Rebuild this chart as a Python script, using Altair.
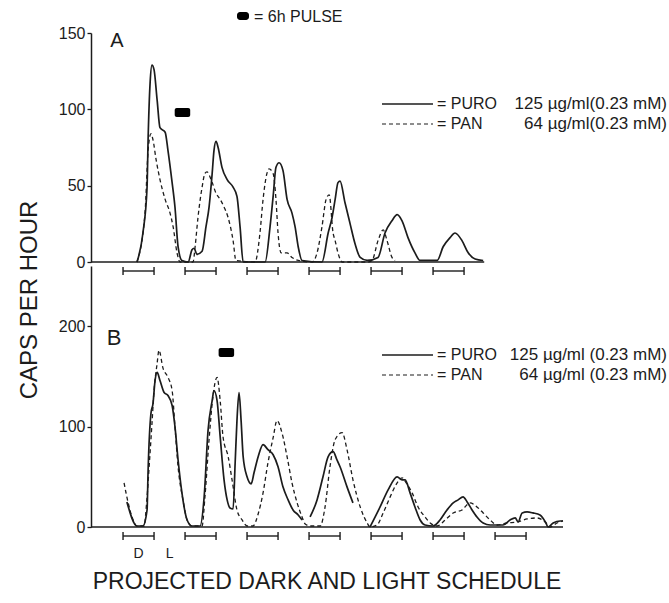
import altair as alt
import pandas as pd

# ---------------- data (hours from first projected dark onset, caps per hour) ----------------
X_MIN, X_MAX = -12.4, 170.3

a_puro = [(5.4,0),(7.7,19),(9.3,49),(9.7,80),(10.5,118),(11.2,129),(12.0,126),(13.2,106),(14.3,88),
          (16.3,85),(17.4,73),(19.0,52),(20.1,36),(21.3,10),(22.8,1),(25.2,0),(26.7,8),(27.5,9),(28.6,5),
          (30.6,7),(32.1,23),(33.3,36),(34.5,58),(35.2,73),(36.0,79),(36.8,75),(38.3,62),(40.3,54),
          (42.6,49),(44.1,43),(45.3,23),(46.5,0),(55.0,0),(56.9,23),(58.1,43),(59.2,62),(60.4,65),
          (61.9,60),(63.5,41),(65.4,32),(66.6,23),(67.8,10),(69.3,1),(77.0,0),(79.4,19),(80.9,29),
          (82.1,41),(83.2,52),(84.0,53),(85.9,39),(87.9,25),(89.8,12),(91.8,3),(94.5,1),(98.7,3),
          (101.4,19),(104.1,27),(106.1,31),(108.0,27),(110.3,16),(113.0,6),(115.0,1),(121.6,1),
          (123.9,10),(126.6,16),(128.5,19),(131.2,14),(133.6,6),(136.3,2),(139.4,1)]
a_pan = [(5.4,0),(8.5,32),(9.7,73),(10.8,84),(11.6,80),(12.8,67),(14.3,54),(16.3,41),(18.2,32),
         (19.4,23),(20.9,6),(22.1,0),(27.1,0),(27.9,10),(29.0,29),(30.6,49),(31.7,58),(32.5,59),
         (34.5,52),(36.0,45),(37.6,41),(39.1,36),(40.7,29),(42.6,14),(43.7,1),(51.1,0),(53.0,19),
         (54.2,41),(55.7,58),(56.5,61),(58.1,58),(59.2,41),(60.0,19),(61.2,6),(63.5,6),(65.4,3),
         (67.8,1),(73.2,0),(75.1,6),(77.0,23),(78.6,41),(79.8,44),(81.3,19),(82.1,14),(83.2,6),
         (84.8,0),(94.9,0),(96.4,1),(98.7,14),(100.7,21),(102.2,14),(104.1,3),(105.3,1)]

b_puro_1 = [(1.5,25),(5.4,1),(7.7,1),(9.3,17),(9.7,56),(10.8,113),(11.6,123),(12.4,146),(13.2,154),
            (14.3,146),(15.9,134),(17.4,131),(19.0,121),(20.1,100),(21.3,67),(22.8,34),(24.8,7),
            (26.7,1),(29.8,1),(31.4,30),(32.9,96),(34.5,126),(35.2,136),(36.4,126),(37.6,90),
            (39.1,47),(40.3,27),(41.4,19),(42.6,18),(43.4,64),(44.1,106),(44.9,134),(45.7,106),
            (46.5,70),(48.0,50),(49.6,43),(50.7,54),(52.3,70),(54.2,82),(56.1,77),(58.1,72),
            (60.0,60),(61.9,40),(63.9,27),(65.8,17),(67.8,12),(69.3,7)]
b_puro_2 = [(72.4,10),(75.1,27),(77.4,50),(79.4,70),(81.3,75),(82.8,67),(84.0,60),(86.7,40),(89.0,24)]
b_puro_3 = [(95.6,0),(99.5,20),(102.6,37),(106.1,50),(108.0,47),(109.2,47),(111.1,34),(113.0,20),
            (115.0,7),(116.9,2),(120.0,1),(122.7,7),(125.4,17),(127.8,24),(129.7,27),(131.6,30),
            (133.2,25),(135.1,17),(137.0,10),(139.4,4),(142.1,2),(147.1,2),(149.8,7),(151.8,9),
            (152.9,5),(154.5,14),(156.4,15),(158.7,14),(161.4,12),(163.7,4),(164.5,0),(166.5,4),
            (169.2,6),(170.3,6)]
b_pan = [(0.4,44),(1.9,25),(3.9,7),(5.4,1),(8.1,1),(9.3,30),(10.1,60),(11.2,103),(12.0,136),
         (13.2,163),(13.9,176),(15.5,158),(17.4,149),(19.0,136),(20.1,100),(21.3,60),(23.2,27),
         (24.8,7),(26.7,1),(30.6,1),(31.7,30),(33.3,87),(34.8,130),(36.4,149),(37.6,126),(38.7,90),
         (40.7,70),(42.2,47),(44.1,17),(46.1,7),(48.0,1),(50.3,1),(52.3,13),(54.2,34),(56.1,64),
         (58.1,89),(59.6,106),(61.6,93),(63.5,70),(65.4,44),(67.4,24),(69.3,10),(70.5,3),(72.4,1),
         (76.3,1),(78.2,20),(80.1,60),(82.1,87),(84.8,94),(86.7,77),(89.0,47),(91.8,20),(94.5,4),
         (95.6,0),(98.3,2),(100.7,14),(103.4,30),(106.1,44),(108.0,49),(109.6,44),(111.9,34),
         (114.2,20),(116.9,10),(118.9,4),(121.6,1),(124.7,7),(127.8,14),(131.2,17),(134.3,24),
         (137.0,20),(139.4,14),(142.1,7),(144.8,2),(148.7,4),(152.5,5),(156.4,8),(160.3,9),
         (163.4,5),(165.3,0),(168.0,4),(170.3,6)]

dark_starts_a = [0, 24, 48, 72, 96, 120]
dark_starts_b = [0, 24, 48, 72, 96, 120, 144]
dark_hours = 12
pulse_a = [20, 26]
pulse_b = [37, 43]
record_end_a = 139.8
record_end_b = 170.3
ticks_a = [0, 50, 100, 150]
ticks_b = [0, 100, 200]
dl_labels = ["D", "L"]
dl_hours = [6, 18]

FONT = "Liberation Sans"
INK = "#1c1c1c"
W = 472
HA, HB = 229, 261

xscale = alt.Scale(domain=[X_MIN, X_MAX], nice=False, zero=False)


def sdf(pairs, seg):
    d = pd.DataFrame(pairs, columns=["h", "v"])
    d["seg"] = seg
    return d


one = pd.DataFrame({"k": [0]})


def text(t, x, y, size, align="left", angle=0):
    return alt.Chart(one).mark_text(text=t, font=FONT, fontSize=size, align=align,
                                    baseline="middle", color=INK, angle=angle).encode(
        x=alt.value(x), y=alt.value(y))


def mk_axis(vals):
    return alt.Axis(values=vals, title=None, grid=False, labelFont=FONT, labelFontSize=16,
                    labelColor=INK, labelPadding=2, domainColor=INK, domainWidth=1.5,
                    tickColor=INK, tickSize=4, tickWidth=1.3)


def panel(series_solid, series_dash, yscale, yaxis, height, darks, pulse, end, letter, leg_y,
          pulse_y, letter_pos, letter_size, b_rows=False):
    X = lambda f: alt.X(f, scale=xscale, axis=None)
    Y = lambda f: alt.Y(f, scale=yscale, axis=yaxis)
    solid = pd.concat([sdf(p, i) for i, p in enumerate(series_solid)])
    dash = pd.concat([sdf(p, i) for i, p in enumerate(series_dash)])
    layers = []
    base = pd.DataFrame({"s": [X_MIN], "e": [end], "z": [0]})
    layers.append(alt.Chart(base).mark_rule(color=INK, strokeWidth=1.5).encode(
        x=X("s:Q"), x2="e:Q", y=Y("z:Q")))
    layers.append(alt.Chart(solid).mark_line(interpolate="monotone", color=INK, strokeWidth=1.7)
                  .encode(x=X("h:Q"), y=Y("v:Q"), detail="seg:N"))
    layers.append(alt.Chart(dash).mark_line(interpolate="monotone", color=INK, strokeWidth=1.3,
                                            strokeDash=[4, 3])
                  .encode(x=X("h:Q"), y=Y("v:Q"), detail="seg:N"))
    br = pd.DataFrame({"s": darks, "e": [d + dark_hours for d in darks]})
    by = height + 9
    layers.append(alt.Chart(br).mark_rule(color=INK, strokeWidth=1.4).encode(
        x=X("s:Q"), x2="e:Q", y=alt.value(by)))
    ends = pd.DataFrame({"t": darks + [d + dark_hours for d in darks]})
    layers.append(alt.Chart(ends).mark_rule(color=INK, strokeWidth=1.4).encode(
        x=X("t:Q"), y=alt.value(by - 4), y2=alt.value(by + 4)))
    pu = pd.DataFrame({"s": [pulse[0]], "e": [pulse[1]]})
    layers.append(alt.Chart(pu).mark_rect(color="#000", cornerRadius=2).encode(
        x=X("s:Q"), x2="e:Q", y=alt.value(pulse_y), y2=alt.value(pulse_y + 9)))
    layers.append(text(letter, letter_pos[0], letter_pos[1], letter_size, "center"))
    # legend
    lx0, lx1 = 291, 342
    layers.append(alt.Chart(one).mark_rule(color=INK, strokeWidth=1.4).encode(
        x=alt.value(lx0), x2=alt.value(lx1), y=alt.value(leg_y)))
    layers.append(alt.Chart(one).mark_rule(color=INK, strokeWidth=1.2, strokeDash=[4, 3]).encode(
        x=alt.value(lx0), x2=alt.value(lx1), y=alt.value(leg_y + 20)))
    layers.append(text("= PURO", 346, leg_y, 16))
    layers.append(text("= PAN", 346, leg_y + 20, 16))
    dose1 = "125 µg/ml (0.23 mM)" if b_rows else "125 µg/ml(0.23 mM)"
    dose2 = "64 µg/ml (0.23 mM)" if b_rows else "64 µg/ml(0.23 mM)"
    layers.append(text(dose1, 576, leg_y, 17, "right"))
    layers.append(text(dose2, 576, leg_y + 20, 17, "right"))
    return alt.layer(*layers).properties(width=W, height=height)


pa = panel([a_puro], [a_pan], alt.Scale(domain=[0, 150], nice=False), mk_axis(ticks_a), HA,
           dark_starts_a, pulse_a, record_end_a, "A", 71, 75, (26, 8), 20)
# pulse key above panel A
pa = alt.layer(pa,
               alt.Chart(one).mark_rect(color="#000", cornerRadius=3).encode(
                   x=alt.value(146), x2=alt.value(158), y=alt.value(-21), y2=alt.value(-13)),
               text("= 6h PULSE", 163, -16, 16))

pb = panel([b_puro_1, b_puro_2, b_puro_3], [b_pan], alt.Scale(domain=[0, 260], nice=False),
           mk_axis(ticks_b), HB, dark_starts_b, pulse_b, record_end_b, "B", 89, 82, (23, 72), 22,
           b_rows=True)
dl = pd.DataFrame({"h": dl_hours, "lab": dl_labels})
pb = alt.layer(pb,
               alt.Chart(dl).mark_text(font=FONT, fontSize=14, color=INK, baseline="middle").encode(
                   x=alt.X("h:Q", scale=xscale, axis=None), y=alt.value(288), text="lab:N"),
               text("CAPS PER HOUR", -61, 34, 24, "center", 270),
               text("PROJECTED DARK AND LIGHT SCHEDULE", 236, 316, 23, "center"))

chart = alt.vconcat(pa, pb, spacing=4, bounds="flush").properties(
    padding={"left": 17, "top": 9, "right": 0, "bottom": 0},
    background="white"
).configure_view(stroke=None)

chart.save("out.html", embed_options={"renderer": "svg", "actions": False})
